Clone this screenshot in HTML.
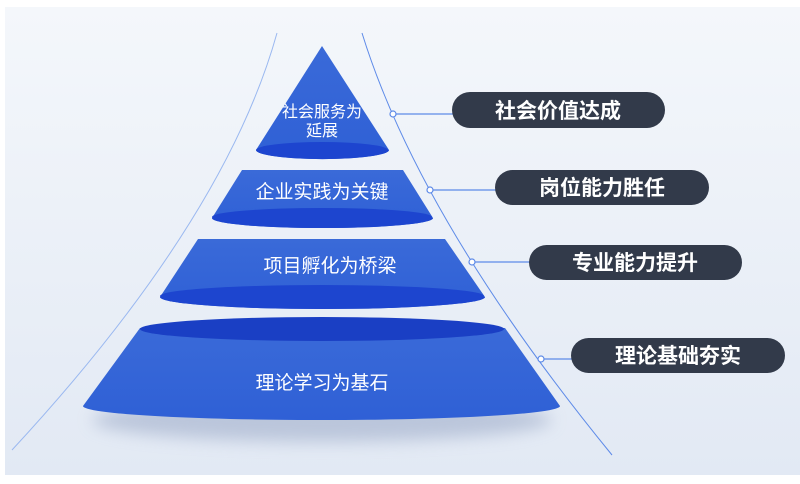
<!DOCTYPE html>
<html><head><meta charset="utf-8"><style>
html,body{margin:0;padding:0;background:#fff;width:800px;height:484px;overflow:hidden}
svg{display:block}
text{font-family:"Liberation Sans","Noto Sans CJK SC",sans-serif}
</style></head><body>
<svg width="800" height="484" viewBox="0 0 800 484" xmlns="http://www.w3.org/2000/svg">
<defs>
<linearGradient id="bg" x1="0" y1="0" x2="0" y2="1">
<stop offset="0" stop-color="#f4f7fb"/><stop offset="1" stop-color="#e2e9f4"/></linearGradient>
<linearGradient id="cone" x1="0" y1="0" x2="0" y2="1">
<stop offset="0" stop-color="#3a6ad8"/><stop offset="1" stop-color="#2f60d6"/></linearGradient>
<filter id="sh" x="-20%" y="-20%" width="140%" height="160%"><feGaussianBlur stdDeviation="8"/></filter>
</defs>
<rect x="5" y="7" width="795" height="468" fill="url(#bg)"/>
<ellipse cx="322" cy="420" rx="230" ry="22" fill="#9aa8c6" opacity="0.55" filter="url(#sh)"/>
<path d="M277 33 Q225 220 12 450" fill="none" stroke="#9ab8f0" stroke-width="1"/>
<path d="M362 33 Q420 220 612 455" fill="none" stroke="#5d8ae8" stroke-width="1"/>
<path d="M322 46 L389 150 A66 9 0 0 1 256 150 Z" fill="url(#cone)"/>
<ellipse cx="322" cy="150" rx="66" ry="8" fill="#1d45cf"/>
<path d="M256 150 A66 9 0 0 0 389 150" fill="#1d45cf"/>
<path d="M242 170 L403 170 L433 218 A110 10 0 0 1 212 218 Z" fill="url(#cone)"/>
<ellipse cx="322" cy="217" rx="110" ry="9" fill="#1d45cf"/>
<path d="M212 218 A110 10 0 0 0 433 218" fill="#1d45cf"/>
<path d="M198 239 L445 239 L485 297 A162 12 0 0 1 160 297 Z" fill="url(#cone)"/>
<ellipse cx="322" cy="296" rx="162" ry="11" fill="#1d45cf"/>
<path d="M160 297 A162 12 0 0 0 485 297" fill="#1d45cf"/>
<path d="M140 328 L505 328 L560 406 A238 14 0 0 1 83 406 Z" fill="url(#cone)"/>
<ellipse cx="322" cy="329" rx="182" ry="12" fill="#1a3fc4"/>
<g fill="#fff" text-anchor="middle">
<text x="322" y="117" font-size="16">社会服务为</text>
<text x="322" y="136" font-size="16">延展</text>
<text x="322" y="198" font-size="19">企业实践为关键</text>
<text x="330" y="272" font-size="19">项目孵化为桥梁</text>
<text x="322" y="389" font-size="19">理论学习为基石</text>
</g>
<g stroke="#5d8ae8" stroke-width="1.2" fill="#fff">
<line x1="396" y1="114" x2="455" y2="114"/>
<line x1="433" y1="190" x2="498" y2="190"/>
<line x1="475" y1="262" x2="532" y2="262"/>
<line x1="544" y1="359" x2="574" y2="359"/>
<circle cx="393" cy="114" r="3"/>
<circle cx="430" cy="190" r="3"/>
<circle cx="472" cy="262" r="3"/>
<circle cx="541" cy="359" r="3"/>
</g>
<g fill="#323a4a">
<rect x="452" y="92" width="213" height="36" rx="18"/>
<rect x="495" y="170" width="214" height="35" rx="17.5"/>
<rect x="529" y="245" width="213" height="35" rx="17.5"/>
<rect x="571" y="338" width="214" height="35" rx="17.5"/>
</g>
<g fill="#fff" font-size="21" font-weight="bold" text-anchor="middle">
<text x="558" y="118">社会价值达成</text>
<text x="602" y="195">岗位能力胜任</text>
<text x="635" y="270">专业能力提升</text>
<text x="678" y="363">理论基础夯实</text>
</g>
</svg>
</body></html>
